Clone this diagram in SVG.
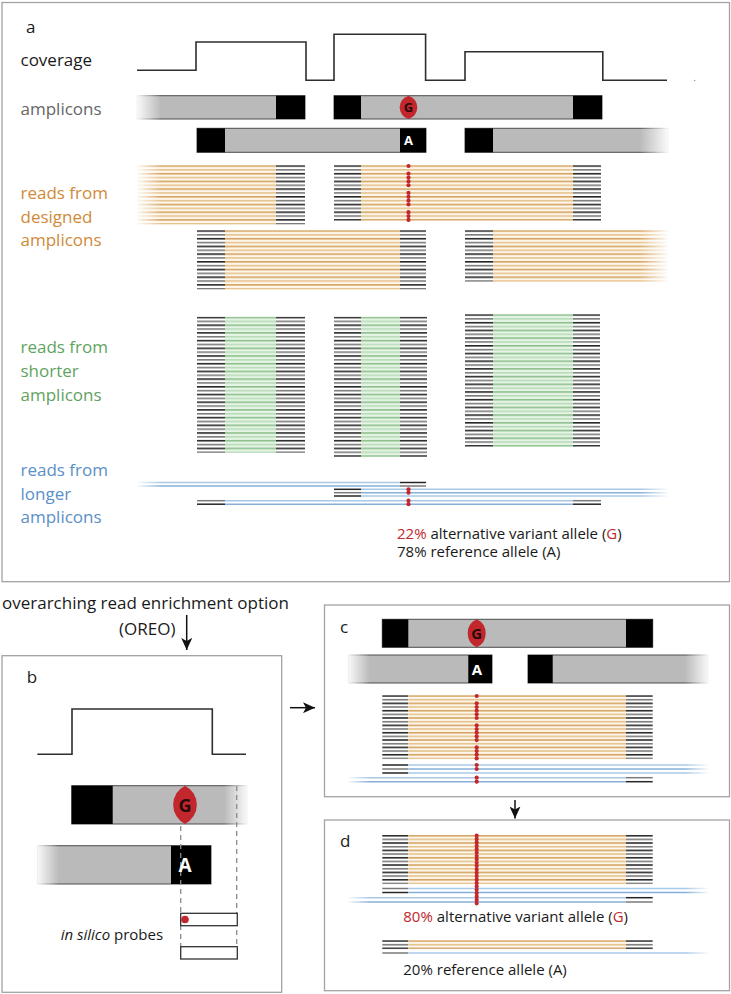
<svg xmlns="http://www.w3.org/2000/svg" width="731" height="994" viewBox="0 0 731 994">
<defs>
<style>
text{font-family:"Open Sans","Liberation Sans",sans-serif;font-size:17px;fill:#1a1a1a}
.sm{font-size:15px}
.frame{fill:none;stroke:#a3a3a3;stroke-width:1.3}
.bar{fill:#bababa;stroke:#4d4d4d;stroke-width:1}
.blk{fill:#000}
.cov{fill:none;stroke:#2e2e2e;stroke-width:1.6}
.dot{fill:#c1272d}
.mk{fill:#c1272d}
.gl{font-weight:bold;fill:#2a0a0a;text-anchor:middle}
.al{font-weight:bold;fill:#fff;text-anchor:middle}
.b1{stroke:#a8c8e8;stroke-width:1.5}
.b2{stroke:#86b0da;stroke-width:1.5}
.k1{stroke:#262626;stroke-width:1.5}
.k2{stroke:#7a7a7a;stroke-width:1.5}
.arr{stroke:#111;stroke-width:1.5;fill:none;marker-end:url(#ah)}
.dash{stroke:#8a8a8a;stroke-width:1.3;stroke-dasharray:5 4;fill:none}
.probe{fill:#fff;stroke:#333;stroke-width:1.3}
.red{fill:#c1272d}
</style>
<linearGradient id="fl" x1="0" x2="1" y1="0" y2="0"><stop offset="0" stop-color="#fff"/><stop offset="1" stop-color="#fff" stop-opacity="0"/></linearGradient>
<linearGradient id="fr" x1="0" x2="1" y1="0" y2="0"><stop offset="0" stop-color="#fff" stop-opacity="0"/><stop offset="1" stop-color="#fff"/></linearGradient>
<pattern id="pk" patternUnits="userSpaceOnUse" width="8" height="7.7"><rect width="8" height="1.6" fill="#262626"/><rect y="3.85" width="8" height="1.6" fill="#7a7a7a"/></pattern>
<pattern id="po" patternUnits="userSpaceOnUse" width="8" height="7.7"><rect width="8" height="7.7" fill="#fdf6ec"/><rect width="8" height="1.6" fill="#d5a35f"/><rect y="3.85" width="8" height="1.6" fill="#e6c38d"/></pattern>
<pattern id="pg" patternUnits="userSpaceOnUse" width="8" height="7.7"><rect width="8" height="7.7" fill="#e6f4e6"/><rect width="8" height="1.6" fill="#8cc08c"/><rect y="3.85" width="8" height="1.6" fill="#b8dcb8"/></pattern>
<pattern id="pk2" patternUnits="userSpaceOnUse" width="8" height="7.34"><rect width="8" height="1.6" fill="#262626"/><rect y="3.67" width="8" height="1.6" fill="#7a7a7a"/></pattern>
<pattern id="po2" patternUnits="userSpaceOnUse" width="8" height="7.34"><rect width="8" height="7.34" fill="#fdf6ec"/><rect width="8" height="1.6" fill="#d5a35f"/><rect y="3.67" width="8" height="1.6" fill="#e6c38d"/></pattern>
<marker id="ah" markerUnits="userSpaceOnUse" markerWidth="12" markerHeight="11" refX="12" refY="5.5" orient="auto"><path d="M0,0 L12,5.5 L0,11 L3,5.5 z" fill="#111"/></marker>
</defs>
<rect width="731" height="994" fill="#fff"/>

<!-- Panel a -->
<g id="panel-a">
<rect class="frame" x="2" y="2.5" width="727.5" height="579.2"/>
<text x="26" y="33">a</text>
<text x="20.5" y="65.5">coverage</text>
<text x="20.5" y="114.5" style="fill:#666">amplicons</text>
<text style="fill:#d08a3a"><tspan x="20.5" y="199">reads from</tspan><tspan x="20.5" y="222.5">designed</tspan><tspan x="20.5" y="246">amplicons</tspan></text>
<text style="fill:#5fa35f"><tspan x="20.5" y="352.5">reads from</tspan><tspan x="20.5" y="376.5">shorter</tspan><tspan x="20.5" y="400.5">amplicons</tspan></text>
<text style="fill:#5b8fc8"><tspan x="20.5" y="476">reads from</tspan><tspan x="20.5" y="499.5">longer</tspan><tspan x="20.5" y="523">amplicons</tspan></text>
</g>

<g id="a-coverage">
<path class="cov" d="M137,70.3 H196 V42 H306 V80.3 H334 V34.3 H425.6 V80.3 H465 V51.7 H602.8 V80.3 H667"/>
<circle cx="694.6" cy="80.5" r="0.8" fill="#999"/>
</g>

<g id="a-amplicon-1">
<rect class="bar" x="137" y="95.7" width="168" height="23.3"/>
<rect class="blk" x="276" y="95.7" width="29" height="23.3"/>
<rect x="135" y="94" width="26" height="27" fill="url(#fl)"/>
</g>
<g id="a-amplicon-2">
<rect class="bar" x="334" y="95.7" width="268" height="23.3"/>
<rect class="blk" x="334" y="95.7" width="27" height="23.3"/>
<rect class="blk" x="573" y="95.7" width="29" height="23.3"/>
<path class="mk" d="M408.5,95.7 A12.1,12.1 0 0 1 408.5,119 A12.1,12.1 0 0 1 408.5,95.7 z"/>
<text class="gl" x="408.5" y="112.3" style="font-size:13px">G</text>
</g>
<g id="a-amplicon-3">
<rect class="bar" x="197" y="128.3" width="229" height="24"/>
<rect class="blk" x="197" y="128.3" width="28" height="24"/>
<rect class="blk" x="400" y="128.3" width="26" height="24"/>
<text class="al" x="408.5" y="145.3" style="font-size:13px">A</text>
</g>
<g id="a-amplicon-4">
<rect class="bar" x="465" y="128.3" width="203" height="24"/>
<rect class="blk" x="465" y="128.3" width="28" height="24"/>
<rect x="640" y="126.5" width="30" height="27.5" fill="url(#fr)"/>
</g>

<g id="a-designed-1" transform="translate(0,165.2)">
<rect x="137" width="139" height="59.35" fill="url(#po)"/>
<rect x="276" width="29" height="59.35" fill="url(#pk)"/>
<rect x="135" y="-1" width="26" height="62" fill="url(#fl)"/>
</g>
<g id="a-designed-2" transform="translate(0,165.2)">
<rect x="334" width="27" height="55.5" fill="url(#pk)"/>
<rect x="361" width="212" height="55.5" fill="url(#po)"/>
<rect x="573" width="28" height="55.5" fill="url(#pk)"/>
</g>
<g id="a-designed-2-dots">
<circle class="dot" cx="408.5" cy="166" r="2.1"/>
<circle class="dot" cx="408.5" cy="173.7" r="2.1"/>
<circle class="dot" cx="408.5" cy="177.55" r="2.1"/>
<circle class="dot" cx="408.5" cy="181.4" r="2.1"/>
<circle class="dot" cx="408.5" cy="185.25" r="2.1"/>
<circle class="dot" cx="408.5" cy="192.95" r="2.1"/>
<circle class="dot" cx="408.5" cy="196.8" r="2.1"/>
<circle class="dot" cx="408.5" cy="200.65" r="2.1"/>
<circle class="dot" cx="408.5" cy="204.5" r="2.1"/>
<circle class="dot" cx="408.5" cy="212.2" r="2.1"/>
<circle class="dot" cx="408.5" cy="216.05" r="2.1"/>
<circle class="dot" cx="408.5" cy="219.9" r="2.1"/>
</g>
<g id="a-designed-3" transform="translate(0,230.2)">
<rect x="197" width="28" height="59.35" fill="url(#pk)"/>
<rect x="225" width="175" height="59.35" fill="url(#po)"/>
<rect x="400" width="26" height="59.35" fill="url(#pk)"/>
</g>
<g id="a-designed-4" transform="translate(0,230.2)">
<rect x="465" width="28" height="51.65" fill="url(#pk)"/>
<rect x="493" width="175" height="51.65" fill="url(#po)"/>
<rect x="640" y="-1" width="30" height="54" fill="url(#fr)"/>
</g>

<g id="a-shorter-1" transform="translate(0,316.7)">
<rect x="197" width="28" height="136.35" fill="url(#pk)"/>
<rect x="225" width="51" height="136.35" fill="url(#pg)"/>
<rect x="276" width="29" height="136.35" fill="url(#pk)"/>
</g>
<g id="a-shorter-2" transform="translate(0,316.7)">
<rect x="334" width="27" height="140.2" fill="url(#pk)"/>
<rect x="361" width="39" height="140.2" fill="url(#pg)"/>
<rect x="400" width="27" height="140.2" fill="url(#pk)"/>
</g>
<g id="a-shorter-3" transform="translate(0,314.2)">
<rect x="465" width="28" height="132.5" fill="url(#pk)"/>
<rect x="493" width="80" height="132.5" fill="url(#pg)"/>
<rect x="573" width="27" height="132.5" fill="url(#pk)"/>
</g>

<g id="a-longer-1">
<line class="b1" x1="137" y1="482.5" x2="400" y2="482.5"/>
<line class="b2" x1="137" y1="486" x2="400" y2="486"/>
<line class="k1" x1="400" y1="482.5" x2="426" y2="482.5"/>
<line class="k2" x1="400" y1="486" x2="426" y2="486"/>
<rect x="135" y="480" width="26" height="8.5" fill="url(#fl)"/>
</g>
<g id="a-longer-2">
<line class="k1" x1="334" y1="489.3" x2="361" y2="489.3"/>
<line class="k2" x1="334" y1="492.7" x2="361" y2="492.7"/>
<line class="k1" x1="334" y1="496" x2="361" y2="496"/>
<line class="b1" x1="361" y1="489.3" x2="668" y2="489.3"/>
<line class="b2" x1="361" y1="492.7" x2="668" y2="492.7"/>
<line class="b1" x1="361" y1="496" x2="668" y2="496"/>
<rect x="640" y="487" width="30" height="11" fill="url(#fr)"/>
</g>
<g id="a-longer-3">
<line class="k2" x1="197" y1="500.7" x2="225" y2="500.7"/>
<line class="k1" x1="197" y1="504.2" x2="225" y2="504.2"/>
<line class="b1" x1="225" y1="500.7" x2="573" y2="500.7"/>
<line class="b2" x1="225" y1="504.2" x2="573" y2="504.2"/>
<line class="k2" x1="573" y1="500.7" x2="601" y2="500.7"/>
<line class="k1" x1="573" y1="504.2" x2="601" y2="504.2"/>
</g>
<g id="a-longer-dots">
<circle class="dot" cx="408.5" cy="489.3" r="2.1"/>
<circle class="dot" cx="408.5" cy="492.7" r="2.1"/>
<circle class="dot" cx="408.5" cy="500.7" r="2.1"/>
<circle class="dot" cx="408.5" cy="504.2" r="2.1"/>
</g>
<g id="a-result">
<text class="sm" x="397" y="538.5"><tspan class="red">22%</tspan> alternative variant allele (<tspan class="red">G</tspan>)</text>
<text class="sm" x="397" y="557">78% reference allele (A)</text>
</g>

<!-- OREO -->
<g id="oreo-label">
<text x="2" y="608.5">overarching read enrichment option</text>
<text x="119" y="634.5">(OREO)</text>
</g>

<!-- Panel b -->
<g id="panel-b">
<rect class="frame" x="2" y="655.7" width="279.7" height="336.6"/>
<text x="26.7" y="682.5">b</text>
<path class="cov" d="M37.3,754.3 H72 V709 H212.3 V754.3 H246"/>
</g>
<g id="b-amplicon-1">
<rect class="bar" x="71.7" y="785.7" width="175.3" height="38.3"/>
<rect class="blk" x="71.7" y="785.7" width="41" height="38.3"/>
<rect x="224" y="784" width="25" height="42" fill="url(#fr)"/>
</g>
<g id="b-amplicon-2">
<rect class="bar" x="37.3" y="845.7" width="173.7" height="38.3"/>
<rect class="blk" x="171" y="845.7" width="40" height="38.3"/>
<rect x="35" y="844" width="24" height="42" fill="url(#fl)"/>
</g>
<g id="b-guides">
<path class="dash" d="M180.7,826 V959 M236.7,786 V959"/>
</g>
<g id="b-marker">
<path class="mk" d="M185,785.7 A21.4,21.4 0 0 1 185,824 A21.4,21.4 0 0 1 185,785.7 z"/>
<text class="gl" x="185" y="811.5" style="font-size:18px">G</text>
<text class="al" x="185" y="872" style="font-size:19px">A</text>
</g>
<g id="b-probe-1">
<rect class="probe" x="180.7" y="913.3" width="56.6" height="12.4"/>
<circle class="dot" cx="185" cy="919.5" r="3.8"/>
</g>
<g id="b-probe-2">
<rect class="probe" x="180.7" y="946.7" width="56.6" height="12.3"/>
</g>
<text class="sm" x="60.7" y="940"><tspan font-style="italic">in silico</tspan> probes</text>

<!-- Panel c -->
<g id="panel-c">
<rect class="frame" x="324.5" y="605" width="405" height="191.7"/>
<text x="340" y="633">c</text>
</g>
<g id="c-amplicon-1">
<rect class="bar" x="382.3" y="619.3" width="270.4" height="28"/>
<rect class="blk" x="382.3" y="619.3" width="26" height="28"/>
<rect class="blk" x="626" y="619.3" width="26.7" height="28"/>
<path class="mk" d="M476.7,619.3 A15.4,15.4 0 0 1 476.7,647.3 A15.4,15.4 0 0 1 476.7,619.3 z"/>
<text class="gl" x="476.7" y="638.6" style="font-size:15px">G</text>
</g>
<g id="c-amplicon-2">
<rect class="bar" x="348.3" y="655" width="143.7" height="28"/>
<rect class="blk" x="468.3" y="655" width="23.7" height="28"/>
<text class="al" x="477" y="674.5" style="font-size:15px">A</text>
<rect x="346" y="653.5" width="24" height="31" fill="url(#fl)"/>
</g>
<g id="c-amplicon-3">
<rect class="bar" x="528" y="655" width="180" height="28"/>
<rect class="blk" x="528" y="655" width="24.7" height="28"/>
<rect x="685" y="653.5" width="25" height="31" fill="url(#fr)"/>
</g>
<g id="c-designed" transform="translate(0,695.2)">
<rect x="382.3" width="26" height="63.99" fill="url(#pk2)"/>
<rect x="408.3" width="217.7" height="63.99" fill="url(#po2)"/>
<rect x="626" width="26.7" height="63.99" fill="url(#pk2)"/>
</g>
<g id="c-longer-1">
<line class="k1" x1="382.3" y1="765" x2="408.3" y2="765"/>
<line class="k2" x1="382.3" y1="769" x2="408.3" y2="769"/>
<line class="k1" x1="382.3" y1="773" x2="408.3" y2="773"/>
<line class="b1" x1="408.3" y1="765" x2="708" y2="765"/>
<line class="b2" x1="408.3" y1="769" x2="708" y2="769"/>
<line class="b1" x1="408.3" y1="773" x2="708" y2="773"/>
<rect x="685" y="763" width="25" height="12" fill="url(#fr)"/>
</g>
<g id="c-longer-2">
<line class="b1" x1="348.3" y1="777.7" x2="626" y2="777.7"/>
<line class="b2" x1="348.3" y1="781.7" x2="626" y2="781.7"/>
<line class="k2" x1="626" y1="777.7" x2="652.7" y2="777.7"/>
<line class="k1" x1="626" y1="781.7" x2="652.7" y2="781.7"/>
<rect x="346" y="775.5" width="24" height="8.5" fill="url(#fl)"/>
</g>
<g id="c-dots">
<circle class="dot" cx="476.7" cy="696" r="2.1"/>
<circle class="dot" cx="476.7" cy="703.34" r="2.1"/>
<circle class="dot" cx="476.7" cy="707.01" r="2.1"/>
<circle class="dot" cx="476.7" cy="710.68" r="2.1"/>
<circle class="dot" cx="476.7" cy="714.35" r="2.1"/>
<circle class="dot" cx="476.7" cy="718.02" r="2.1"/>
<circle class="dot" cx="476.7" cy="725.36" r="2.1"/>
<circle class="dot" cx="476.7" cy="729.03" r="2.1"/>
<circle class="dot" cx="476.7" cy="732.7" r="2.1"/>
<circle class="dot" cx="476.7" cy="736.37" r="2.1"/>
<circle class="dot" cx="476.7" cy="740.04" r="2.1"/>
<circle class="dot" cx="476.7" cy="747.38" r="2.1"/>
<circle class="dot" cx="476.7" cy="751.05" r="2.1"/>
<circle class="dot" cx="476.7" cy="754.72" r="2.1"/>
<circle class="dot" cx="476.7" cy="758.39" r="2.1"/>
<circle class="dot" cx="476.7" cy="765" r="2.1"/>
<circle class="dot" cx="476.7" cy="769" r="2.1"/>
<circle class="dot" cx="476.7" cy="777.7" r="2.1"/>
<circle class="dot" cx="476.7" cy="781.7" r="2.1"/>
</g>

<!-- Panel d -->
<g id="panel-d">
<rect class="frame" x="324.5" y="820" width="405" height="170.7"/>
<text x="340" y="847">d</text>
</g>
<g id="d-designed" transform="translate(0,834.9)">
<rect x="382.3" width="26" height="49.31" fill="url(#pk2)"/>
<rect x="408.3" width="217.7" height="49.31" fill="url(#po2)"/>
<rect x="626" width="26.7" height="49.31" fill="url(#pk2)"/>
</g>
<g id="d-longer-1">
<line class="k2" x1="382.3" y1="888.5" x2="408.3" y2="888.5"/>
<line class="k1" x1="382.3" y1="892.5" x2="408.3" y2="892.5"/>
<line class="b1" x1="408.3" y1="888.5" x2="708" y2="888.5"/>
<line class="b2" x1="408.3" y1="892.5" x2="708" y2="892.5"/>
<rect x="685" y="886.5" width="25" height="8" fill="url(#fr)"/>
</g>
<g id="d-longer-2">
<line class="b1" x1="348.3" y1="897.7" x2="626" y2="897.7"/>
<line class="b2" x1="348.3" y1="902" x2="626" y2="902"/>
<line class="k1" x1="626" y1="897.7" x2="652.7" y2="897.7"/>
<line class="k2" x1="626" y1="902" x2="652.7" y2="902"/>
<rect x="346" y="895.5" width="24" height="9" fill="url(#fl)"/>
</g>
<path id="d-dots" d="M476.7,835.7 V903.5" stroke="#c1272d" stroke-width="4.2" stroke-linecap="round" stroke-dasharray="0 3.38" fill="none"/>
<text class="sm" x="403.3" y="922"><tspan class="red">80%</tspan> alternative variant allele (<tspan class="red">G</tspan>)</text>
<g id="d-reference" transform="translate(0,940.2)">
<rect x="382.3" width="26" height="8.94" fill="url(#pk2)"/>
<rect x="408.3" width="217.7" height="8.94" fill="url(#po2)"/>
<rect x="626" width="26.7" height="8.94" fill="url(#pk2)"/>
</g>
<g id="d-reference-longer">
<line class="k2" x1="382.3" y1="953" x2="408.3" y2="953"/>
<line class="b1" x1="408.3" y1="953" x2="708" y2="953"/>
<rect x="685" y="951" width="25" height="4" fill="url(#fr)"/>
</g>
<text class="sm" x="403.3" y="975">20% reference allele (A)</text>

<!-- connectors -->
<g id="connectors">
<path class="arr" d="M186.7,615 V650"/>
<path class="arr" d="M290,707.7 H315"/>
<path class="arr" d="M515,800 V818.5"/>
</g>
</svg>
